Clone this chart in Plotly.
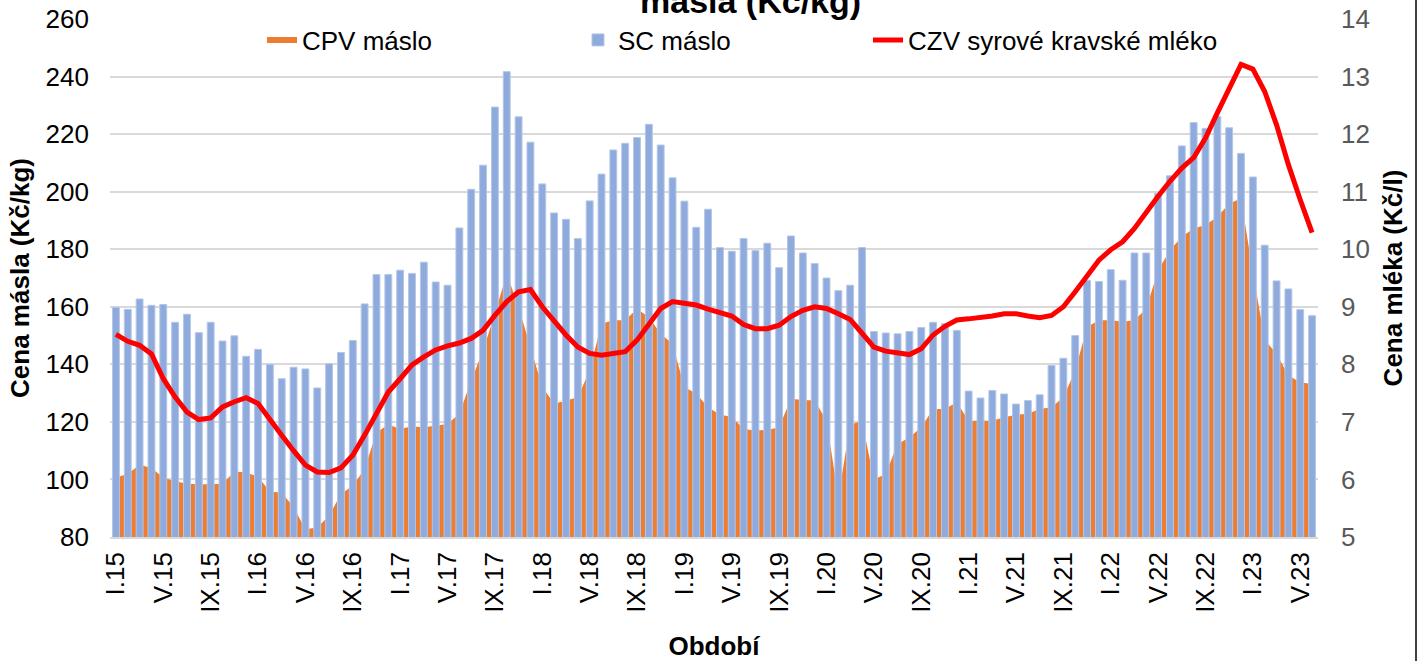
import plotly.graph_objects as go

# ---------------- data ----------------
month_names = ["I", "II", "III", "IV", "V", "VI", "VII", "VIII", "IX", "X", "XI", "XII"]
years = ["15", "16", "17", "18", "19", "20", "21", "22", "23"]
periods = [f"{m}.{y}" for y in years for m in month_names][:102]  # I.15 .. VI.23

tick_labels = ["I.15", "V.15", "IX.15", "I.16", "V.16", "IX.16", "I.17", "V.17", "IX.17",
               "I.18", "V.18", "IX.18", "I.19", "V.19", "IX.19", "I.20", "V.20", "IX.20",
               "I.21", "V.21", "IX.21", "I.22", "V.22", "IX.22", "I.23", "V.23"]

# SC máslo (Kč/kg) - bars
sc_maslo = [
    159.8, 159.1, 162.7, 160.5, 160.8, 154.6, 157.4, 151.0, 154.6, 148.1, 149.9, 142.8,
    145.2, 140.0, 135.0, 139.0, 138.4, 131.8, 140.2, 144.1, 148.3, 161.0, 171.2, 171.2,
    172.7, 171.6, 175.5, 168.6, 167.5, 187.4, 200.8, 209.2, 229.4, 241.7, 226.0, 217.2,
    202.7, 192.6, 190.4, 183.7, 196.8, 206.1, 214.5, 216.8, 218.8, 223.4, 216.2, 204.8,
    196.7, 187.6, 193.9, 180.6, 179.3, 183.7, 179.5, 182.1, 173.6, 184.6, 178.7, 175.0,
    170.0, 165.6, 167.5, 180.6, 151.4, 150.9, 150.6, 151.4, 152.8, 154.6, 154.1, 151.8,
    130.7, 128.3, 130.9, 129.7, 126.2, 127.4, 129.4, 139.6, 142.1, 150.0, 169.2, 168.8,
    172.9, 169.2, 178.7, 178.7, 199.4, 205.5, 215.9, 224.0, 222.0, 226.1, 222.2, 213.3,
    205.1, 181.4, 169.0, 166.2, 159.0, 156.9,
]

# CPV máslo (Kč/kg) - area
cpv_maslo = [
    100.7, 101.9, 105.1, 104.0, 100.7, 99.3, 98.6, 98.2, 98.4, 98.4, 102.8, 102.4,
    101.0, 95.7, 95.5, 90.3, 82.7, 83.3, 87.4, 94.9, 97.8, 103.6, 116.4, 119.0,
    117.6, 118.4, 118.1, 118.7, 119.3, 122.8, 134.4, 144.8, 157.6, 171.5, 159.9, 146.0,
    132.1, 126.3, 127.4, 128.6, 137.9, 154.1, 155.3, 155.3, 159.3, 156.4, 150.6, 147.1,
    132.1, 129.8, 125.1, 122.5, 121.8, 117.5, 117.0, 117.2, 118.1, 128.0, 127.6, 127.4,
    120.4, 94.0, 119.0, 120.4, 100.0, 101.9, 112.3, 114.6, 118.1, 124.5, 124.5, 126.8,
    120.4, 120.4, 120.4, 121.6, 122.5, 122.8, 124.5, 125.1, 128.6, 137.9, 153.0, 155.3,
    155.3, 154.8, 155.3, 159.3, 172.7, 179.6, 184.3, 187.2, 188.4, 191.2, 195.9, 197.6,
    172.0, 148.5, 143.7, 136.1, 133.8, 133.2,
]

# CZV syrové kravské mléko (Kč/l) - line
czv_mleko = [
    8.52, 8.40, 8.33, 8.18, 7.75, 7.43, 7.17, 7.04, 7.07, 7.26, 7.35, 7.42,
    7.32, 7.06, 6.77, 6.50, 6.25, 6.13, 6.12, 6.20, 6.42, 6.77, 7.15, 7.52,
    7.75, 7.99, 8.13, 8.25, 8.32, 8.37, 8.45, 8.59, 8.85, 9.09, 9.26, 9.30,
    9.00, 8.74, 8.51, 8.30, 8.19, 8.16, 8.19, 8.22, 8.42, 8.71, 8.97, 9.09,
    9.07, 9.03, 8.96, 8.90, 8.84, 8.69, 8.62, 8.62, 8.68, 8.83, 8.94, 9.00,
    8.97, 8.88, 8.78, 8.54, 8.30, 8.23, 8.20, 8.17, 8.27, 8.51, 8.66, 8.77,
    8.79, 8.81, 8.84, 8.88, 8.88, 8.84, 8.81, 8.85, 9.00, 9.26, 9.55, 9.81,
    9.99, 10.13, 10.36, 10.65, 10.92, 11.18, 11.41, 11.59, 11.93, 12.37, 12.80, 13.21,
    13.13, 12.74, 12.16, 11.47, 10.86, 10.29,
]

# ---------------- figure ----------------
FONT = "Liberation Sans, Arial, sans-serif"
W, H = 1423, 661
ML, MR, MT, MB = 110, 105, 19, 124
PW = W - ML - MR
PH = H - MT - MB


def px_x(px):
    return (px - ML) / PW


def px_y(py):
    return (H - MB - py) / PH


fig = go.Figure()

fig.add_trace(go.Scatter(
    x=periods, y=cpv_maslo, name="CPV máslo",
    mode="none", fill="tozeroy", fillcolor="#ED7D31",
    xaxis="x", yaxis="y", legend="legend",
))

fig.add_trace(go.Bar(
    x=periods, y=sc_maslo, name="SC máslo",
    marker=dict(color="#8FAADC", line=dict(color="#B4C7E7", width=1)),
    xaxis="x", yaxis="y2", legend="legend2", base=0,
))

fig.add_trace(go.Scatter(
    x=periods, y=czv_mleko, name="CZV syrové kravské mléko",
    mode="lines", line=dict(color="#FF0000", width=5),
    xaxis="x", yaxis="y3", legend="legend3",
))

legend_common = dict(
    orientation="h", yanchor="middle", xanchor="left",
    bgcolor="rgba(0,0,0,0)", font=dict(family=FONT, size=26, color="#000000"),
)

fig.update_layout(
    width=W, height=H,
    margin=dict(l=ML, r=MR, t=MT, b=MB, autoexpand=False),
    paper_bgcolor="white", plot_bgcolor="white",
    font=dict(family=FONT, size=26, color="#000000"),
    bargap=0.42,
    showlegend=True,
    legend=dict(x=px_x(262), y=px_y(40), **legend_common),
    legend2=dict(x=px_x(578), y=px_y(40), **legend_common),
    legend3=dict(x=px_x(868), y=px_y(40), **legend_common),
    xaxis=dict(
        type="category", categoryorder="array", categoryarray=periods,
        range=[-0.5, len(periods) - 0.5],
        tickmode="array", tickvals=tick_labels, ticktext=tick_labels,
        tickangle=-90, ticks="", ticklabelstandoff=3,
        tickfont=dict(family=FONT, size=26, color="#000000"),
        showgrid=False, showline=True, linecolor="#D9D9D9", linewidth=1.5,
        zeroline=False, automargin=False,
        title=dict(text="<b>Období</b>", font=dict(family=FONT, size=26, color="#000000"),
                   standoff=28),
    ),
    yaxis=dict(
        range=[80, 260], tickmode="linear", tick0=80, dtick=20,
        showgrid=True, gridcolor="#D9D9D9", gridwidth=1.5,
        zeroline=False, ticks="", ticklabelstandoff=20,
        tickfont=dict(family=FONT, size=26, color="#000000"),
        automargin=False,
        title=dict(text="<b>Cena másla (Kč/kg)</b>",
                   font=dict(family=FONT, size=26, color="#000000"), standoff=8),
    ),
    yaxis2=dict(
        range=[80, 260], overlaying="y", visible=False, showgrid=False,
        zeroline=False,
    ),
    yaxis3=dict(
        range=[5, 14], overlaying="y", side="right", tickmode="linear",
        tick0=5, dtick=1, showgrid=False, zeroline=False, ticks="",
        ticklabelstandoff=22,
        tickfont=dict(family=FONT, size=26, color="#595959"),
        automargin=False,
        title=dict(text="<b>Cena mléka (Kč/l)</b>",
                   font=dict(family=FONT, size=26, color="#000000"), standoff=14),
    ),
    annotations=[dict(
        text="<b>másla (Kč/kg)</b>", xref="paper", yref="paper",
        x=px_x(750), y=px_y(22), xanchor="center", yanchor="bottom",
        showarrow=False, font=dict(family=FONT, size=34, color="#000000"),
    )],
    shapes=[dict(
        type="line", xref="paper", yref="paper",
        x0=px_x(1416), x1=px_x(1416), y0=px_y(H + 5), y1=px_y(-5),
        line=dict(color="#000000", width=1.5),
    )],
)

fig.write_html(
    "out.html",
    config={"displayModeBar": False},
    post_script="document.body.style.margin='0';document.body.style.padding='0';"
                "document.body.style.overflow='hidden';",
)
